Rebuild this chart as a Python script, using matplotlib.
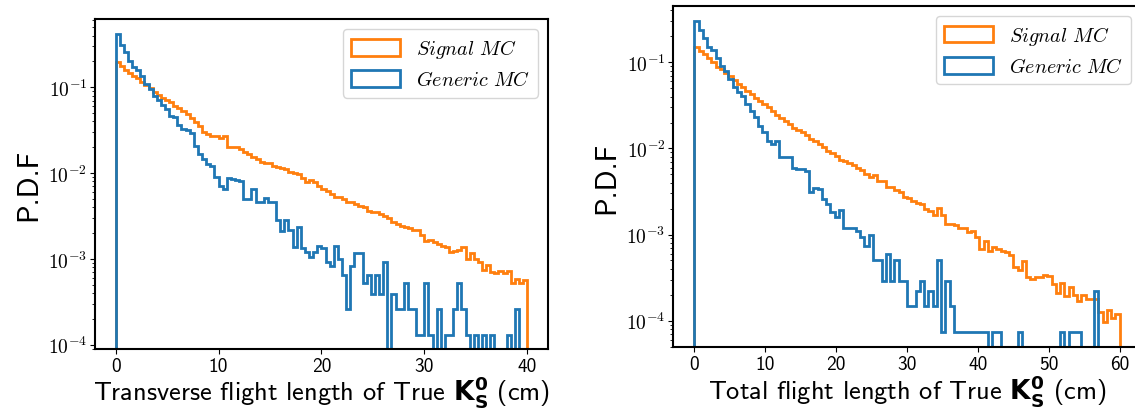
import numpy as np
import matplotlib
matplotlib.use("Agg")
import matplotlib.pyplot as plt
from matplotlib.ticker import FuncFormatter
from matplotlib.font_manager import FontProperties
from matplotlib.patches import Patch

# P.D.F per bin, 100 bins each
sig_transverse = [
    0.199, 0.179, 0.160, 0.147, 0.137, 0.127, 0.116, 0.106, 0.097, 0.089,
    0.081, 0.0757, 0.0718, 0.0668, 0.0611, 0.0569, 0.053, 0.0489, 0.0435, 0.0397,
    0.0357, 0.0304, 0.0286, 0.0273, 0.0268, 0.0255, 0.0268, 0.0203, 0.0203, 0.0202,
    0.0191, 0.0178, 0.0167, 0.0153, 0.0146, 0.0136, 0.0131, 0.0131, 0.0122, 0.0117,
    0.0114, 0.0112, 0.0102, 0.0100, 0.0098, 0.0087, 0.0078, 0.0082, 0.0079, 0.0071,
    0.0066, 0.0061, 0.0057, 0.0052, 0.0053, 0.0050, 0.00465, 0.00456, 0.00432, 0.00417,
    0.0040, 0.00365, 0.00349, 0.00355, 0.00333, 0.00319, 0.00297, 0.00267, 0.00255, 0.00244,
    0.00233, 0.00227, 0.00219, 0.00219, 0.0019, 0.00163, 0.00168, 0.00159, 0.00149, 0.00143,
    0.00136, 0.00121, 0.00125, 0.00128, 0.00136, 0.00100, 0.00117, 0.00100, 0.00093, 0.00075,
    0.00085, 0.00070, 0.00069, 0.00073, 0.00069, 0.00073, 0.00052, 0.00059, 0.00053, 0.00057,
]
gen_transverse = [
    0.42, 0.31, 0.26, 0.204, 0.171, 0.160, 0.137, 0.109, 0.0955, 0.080,
    0.0718, 0.0622, 0.0558, 0.0459, 0.0447, 0.0363, 0.0327, 0.0321, 0.0291, 0.0209,
    0.0167, 0.0146, 0.0128, 0.0122, 0.0089, 0.0071, 0.0065, 0.0087, 0.0085, 0.0082,
    0.0080, 0.0050, 0.0050, 0.0066, 0.00465, 0.00465, 0.0051, 0.00465, 0.00465, 0.00286,
    0.00213, 0.00286, 0.00219, 0.00137, 0.00233, 0.00133, 0.00119, 0.00106, 0.00119, 0.00143,
    0.00133, 0.00091, 0.00082, 0.00143, 0.00100, 0.00065, 0.00026, 0.00082, 0.00117, 0.00117,
    0.00052, 0.00065, 0.00039, 0.00065, 0.00039, 0.00091, 0.0, 0.00039, 0.00026, 0.00026,
    0.00052, 0.00026, 0.00026, 0.00013, 0.00013, 0.00052, 0.00013, 0.0, 0.00026, 0.0,
    0.00013, 0.00013, 0.00026, 0.00052, 0.00026, 0.00013, 0.0, 0.00013, 0.0, 0.00013,
    0.0, 0.00013, 0.0, 0.0, 0.0, 0.00013, 0.0, 0.00026, 0.0, 0.0,
]
sig_total = [
    0.152, 0.136, 0.125, 0.112, 0.100, 0.089, 0.0836, 0.0752, 0.070, 0.0623,
    0.056, 0.0512, 0.0468, 0.0428, 0.0381, 0.0352, 0.0328, 0.030, 0.0274, 0.0247,
    0.0226, 0.0206, 0.0192, 0.0173, 0.0164, 0.0154, 0.0143, 0.0129, 0.0123, 0.01125,
    0.0105, 0.0094, 0.00877, 0.00824, 0.00733, 0.0072, 0.0067, 0.00647, 0.0060, 0.00561,
    0.00505, 0.0047, 0.00495, 0.00422, 0.00422, 0.00359, 0.00353, 0.00329, 0.00309, 0.00275,
    0.00265, 0.00247, 0.0023, 0.00226, 0.00198, 0.00189, 0.0017, 0.00203, 0.0017, 0.00132,
    0.00132, 0.0013, 0.00119, 0.00119, 0.00106, 0.00111, 0.00093, 0.00068, 0.00085, 0.00065,
    0.00071, 0.00068, 0.00064, 0.00062, 0.00058, 0.000416, 0.000387, 0.000497, 0.000324, 0.000304,
    0.000324, 0.000318, 0.000341, 0.00033, 0.000266, 0.000207, 0.00027, 0.000195, 0.000248, 0.0002,
    0.00017, 0.0002, 0.00018, 0.00018, 0.00018, 0.000125, 0.000097, 0.000134, 0.000106, 0.000118,
]
gen_total = [
    0.299, 0.239, 0.190, 0.152, 0.139, 0.112, 0.091, 0.080, 0.064, 0.052,
    0.0448, 0.041, 0.0328, 0.0274, 0.0234, 0.0184, 0.0154, 0.0123, 0.0112, 0.0123,
    0.0079, 0.0079, 0.0079, 0.0060, 0.0057, 0.0057, 0.0054, 0.00314, 0.0035, 0.00337,
    0.00258, 0.00226, 0.00181, 0.00158, 0.00192, 0.00119, 0.00119, 0.00119, 0.00111, 0.00093,
    0.00073, 0.0010, 0.00051, 0.00051, 0.00029, 0.00059, 0.00029, 0.00051, 0.00029, 0.00029,
    0.000147, 0.000147, 0.00022, 0.00029, 0.000147, 0.00022, 0.000147, 0.00051, 0.000073, 0.00029,
    0.000147, 0.000073, 0.000073, 0.000073, 0.000073, 0.000073, 0.000073, 0.000073, 0.000073, 0.0,
    0.000073, 0.000073, 0.0, 0.0, 0.0, 0.0, 0.000073, 0.0, 0.0, 0.0,
    0.0, 0.0, 0.0, 0.0, 0.0, 0.0, 0.000073, 0.0, 0.000073, 0.000073,
    0.000073, 0.0, 0.0, 0.0, 0.00022, 0.0, 0.0, 0.0, 0.0, 0.0,
]

edges_transverse = np.linspace(0, 40, 101)
edges_total = np.linspace(0, 60, 101)

labels = [r"$\mathit{Signal\ MC}$", r"$\mathit{Generic\ MC}$"]
xlabels = [r"Transverse flight length of True $\mathbf{K_S^0}$ (cm)",
           r"Total flight length of True $\mathbf{K_S^0}$ (cm)"]

plt.rcParams["mathtext.fontset"] = "cm"
plt.rcParams["axes.linewidth"] = 1.5
plt.rcParams["axes.unicode_minus"] = False

fig = plt.figure(figsize=(11.35, 4.1), dpi=100)
ax1 = fig.add_axes([0.0837, 0.1463, 0.399, 0.805])
ax2 = fig.add_axes([0.593, 0.1505, 0.4123, 0.833])


def log_label(v, pos):
    return r"$\mathbf{10^{%d}}$" % round(np.log10(v))


panels = [
    (ax1, edges_transverse, sig_transverse, gen_transverse, (-2, 42), (8.9e-5, 0.625), xlabels[0]),
    (ax2, edges_total, sig_total, gen_total, (-3, 63), (4.9e-5, 0.454), xlabels[1]),
]
for ax, edges, sig, gen, xlim, ylim, xl in panels:
    ax.stairs(sig, edges, color="tab:orange", lw=2)
    ax.stairs(gen, edges, color="tab:blue", lw=2)
    ax.set_yscale("log")
    ax.set_xlim(*xlim)
    ax.set_ylim(*ylim)
    ax.yaxis.set_major_formatter(FuncFormatter(log_label))
    ax.tick_params(axis="y", which="major", labelsize=14, pad=2)
    ax.tick_params(axis="x", labelsize=14, pad=2, labelfontfamily="cmss10")
    ax.set_xlabel(xl, fontsize=19, family="cmss10", math_fontfamily="dejavusans", labelpad=-1)
    ax.set_ylabel("P.D.F", fontsize=21, family="cmss10", labelpad=4)
    handles = [Patch(facecolor="none", edgecolor="tab:orange", lw=2),
               Patch(facecolor="none", edgecolor="tab:blue", lw=2)]
    ax.legend(handles, labels, loc="upper right",
              prop=FontProperties(size=14.5, math_fontfamily="cm"),
              handlelength=2.4, handleheight=0.9)

fig.savefig("out.png", dpi=100)
